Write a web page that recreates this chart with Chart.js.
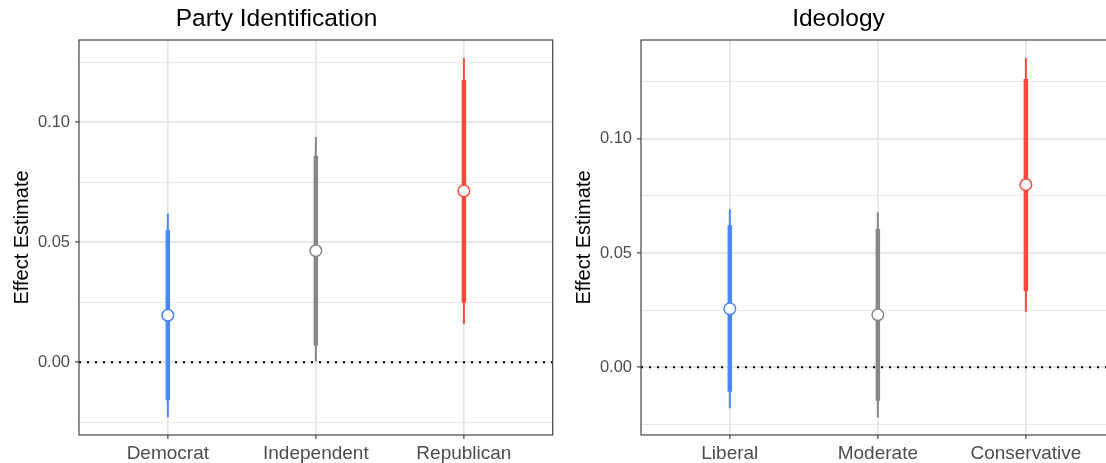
<!DOCTYPE html>
<html>
<head>
<meta charset="utf-8">
<script src="https://cdn.jsdelivr.net/npm/chart.js@4.4.0/dist/chart.umd.min.js"></script>
<style>
  html, body { margin: 0; padding: 0; background: #fff; overflow: hidden; width: 1106px; height: 463px; }
  .panel { position: absolute; top: 0; width: 560px; height: 463px; }
</style>
</head>
<body>
<div class="panel" style="left:0"><canvas id="partyChart"></canvas></div>
<div class="panel" style="left:562px"><canvas id="ideologyChart"></canvas></div>

<script>
// ====== DADOS ======
const partyLabels = ['Democrat', 'Independent', 'Republican'];
const partyEstimate = [0.0196, 0.0465, 0.0714];
const partyInnerLow = [-0.0158, 0.0069, 0.0248];
const partyInnerHigh = [0.0550, 0.0861, 0.1176];
const partyOuterLow = [-0.0229, 0.0000, 0.0158];
const partyOuterHigh = [0.0619, 0.0939, 0.1268];

const ideologyLabels = ['Liberal', 'Moderate', 'Conservative'];
const ideologyEstimate = [0.0256, 0.0230, 0.0799];
const ideologyInnerLow = [-0.0107, -0.0146, 0.0334];
const ideologyInnerHigh = [0.0622, 0.0605, 0.1261];
const ideologyOuterLow = [-0.0179, -0.0219, 0.0243];
const ideologyOuterHigh = [0.0692, 0.0678, 0.1353];

const majorTicks = [0, 0.05, 0.10];
const minorTicks = [-0.025, 0.025, 0.075, 0.125];

const groupColors = ['#4b86fb', '#878787', '#fc4a3d'];
const FONT = '"Liberation Sans", Arial, Helvetica, sans-serif';

const isMajor = v => majorTicks.some(m => Math.abs(m - v) < 1e-9);

// moldura do painel (theme_bw)
const panelBorder = {
  id: 'panelBorder',
  afterDatasetsDraw(chart) {
    const { ctx, chartArea: a } = chart;
    ctx.save();
    ctx.strokeStyle = '#333333';
    ctx.lineWidth = 1.1;
    ctx.strokeRect(a.left, a.top, a.right - a.left, a.bottom - a.top);
    ctx.restore();
  }
};

function makeChart(id, title, labels, est, inLo, inHi, outLo, outHi, yMin, yMax) {
  const xs = labels.map((_, i) => i + 1);
  return new Chart(document.getElementById(id), {
    type: 'bar',
    data: {
      datasets: [
        {
          type: 'line',
          data: xs.map((x, i) => ({ x, y: est[i] })),
          showLine: false,
          pointRadius: 5.8,
          pointBorderWidth: 1.5,
          pointBackgroundColor: '#ffffff',
          pointBorderColor: groupColors,
          order: 0
        },
        {
          data: xs.map((x, i) => ({ x, y: [inLo[i], inHi[i]] })),
          backgroundColor: groupColors,
          grouped: false,
          maxBarThickness: 4.5,
          order: 1
        },
        {
          data: xs.map((x, i) => ({ x, y: [outLo[i], outHi[i]] })),
          backgroundColor: groupColors,
          grouped: false,
          maxBarThickness: 2,
          order: 2
        },
        {
          type: 'line',
          data: [{ x: 0.4, y: 0 }, { x: 3.6, y: 0 }],
          borderColor: '#000000',
          borderWidth: 2,
          borderDash: [2, 6],
          pointRadius: 0,
          order: 3
        }
      ]
    },
    options: {
      responsive: true,
      maintainAspectRatio: false,
      animation: false,
      layout: { padding: { left: 0, right: 7, top: 0, bottom: 0 } },
      plugins: {
        legend: { display: false },
        tooltip: { enabled: false },
        title: {
          display: true,
          text: title,
          color: '#000000',
          font: { family: FONT, size: 24.5, weight: 'normal' },
          padding: { top: 4.5, bottom: 6.1 }
        }
      },
      scales: {
        x: {
          type: 'linear',
          min: 0.4,
          max: 3.6,
          offset: false,
          afterBuildTicks: s => { s.ticks = xs.map(v => ({ value: v })); },
          afterFit: s => { s.height = 28; },
          ticks: {
            color: '#4d4d4d',
            font: { family: FONT, size: 19 },
            padding: 3,
            maxRotation: 0,
            callback: v => labels[v - 1]
          },
          grid: {
            offset: false,
            color: '#e6e6e6',
            lineWidth: 1.8,
            tickColor: '#333333',
            tickWidth: 1.1,
            tickLength: 4
          },
          border: { display: false }
        },
        y: {
          min: yMin,
          max: yMax,
          afterBuildTicks: s => {
            s.ticks = majorTicks.concat(minorTicks).sort((a, b) => a - b).map(v => ({ value: v }));
          },
          afterFit: s => { s.width = 79; },
          ticks: {
            color: '#4d4d4d',
            font: { family: FONT, size: 16.5 },
            padding: 5,
            callback: v => isMajor(v) ? v.toFixed(2) : ''
          },
          grid: {
            color: '#e6e6e6',
            lineWidth: c => isMajor(c.tick.value) ? 1.8 : 0.9,
            tickColor: c => isMajor(c.tick.value) ? '#333333' : 'rgba(0,0,0,0)',
            tickWidth: 1.1,
            tickLength: 4
          },
          border: { display: false },
          title: {
            display: true,
            text: 'Effect Estimate',
            color: '#000000',
            font: { family: FONT, size: 20 },
            padding: { top: 10, bottom: 0 }
          }
        }
      }
    },
    plugins: [panelBorder]
  });
}

makeChart('partyChart', 'Party Identification', partyLabels,
  partyEstimate, partyInnerLow, partyInnerHigh, partyOuterLow, partyOuterHigh, -0.0303, 0.1343);
makeChart('ideologyChart', 'Ideology', ideologyLabels,
  ideologyEstimate, ideologyInnerLow, ideologyInnerHigh, ideologyOuterLow, ideologyOuterHigh, -0.0296, 0.1432);
</script>
</body>
</html>
